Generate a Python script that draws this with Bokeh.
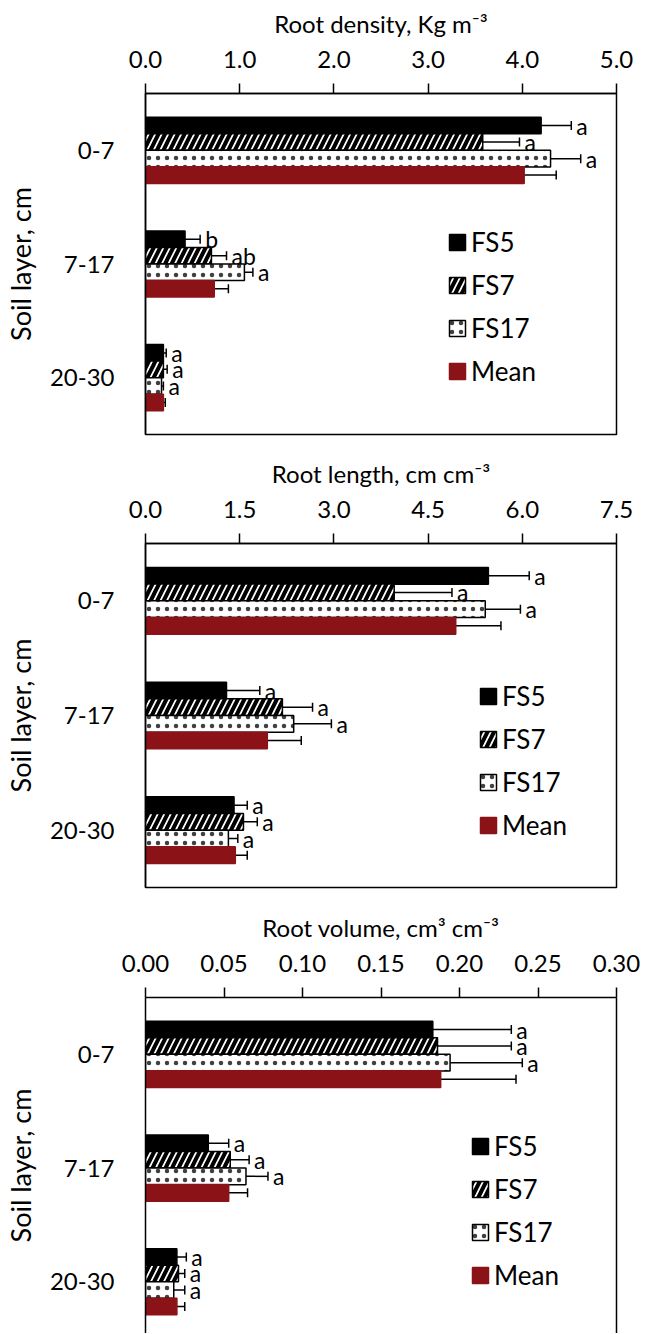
from bokeh.plotting import figure
from bokeh.models import (Range1d, FixedTicker, NumeralTickFormatter, LinearAxis,
                          Whisker, TeeHead, ColumnDataSource, Legend, LegendItem)
from bokeh.layouts import column
from bokeh.core.properties import value
from bokeh.embed import file_html
from bokeh.resources import INLINE

layers = ["0-7", "7-17", "20-30"]
series = ["FS5", "FS7", "FS17", "Mean"]

# Root density, Kg m-3
dens_FS5 = [4.20, 0.42, 0.19]
dens_FS7 = [3.58, 0.70, 0.19]
dens_FS17 = [4.30, 1.05, 0.17]
dens_Mean = [4.02, 0.73, 0.19]
dens_err_FS5 = [0.32, 0.16, 0.03]
dens_err_FS7 = [0.39, 0.16, 0.04]
dens_err_FS17 = [0.32, 0.09, 0.02]
dens_err_Mean = [0.34, 0.15, 0.02]
dens_let_FS5 = ["a", "b", "a"]
dens_let_FS7 = ["a", "ab", "a"]
dens_let_FS17 = ["a", "a", "a"]

# Root length, cm cm-3
len_FS5 = [5.46, 1.29, 1.41]
len_FS7 = [3.96, 2.18, 1.56]
len_FS17 = [5.41, 2.36, 1.32]
len_Mean = [4.94, 1.94, 1.43]
len_err_FS5 = [0.65, 0.53, 0.21]
len_err_FS7 = [0.92, 0.48, 0.22]
len_err_FS17 = [0.56, 0.60, 0.15]
len_err_Mean = [0.72, 0.54, 0.19]
len_let_FS5 = ["a", "a", "a"]
len_let_FS7 = ["a", "a", "a"]
len_let_FS17 = ["a", "a", "a"]

# Root volume, cm3 cm-3
vol_FS5 = [0.183, 0.040, 0.020]
vol_FS7 = [0.186, 0.054, 0.021]
vol_FS17 = [0.194, 0.064, 0.018]
vol_Mean = [0.188, 0.053, 0.020]
vol_err_FS5 = [0.050, 0.013, 0.006]
vol_err_FS7 = [0.047, 0.012, 0.004]
vol_err_FS17 = [0.046, 0.014, 0.007]
vol_err_Mean = [0.048, 0.012, 0.005]
vol_let_FS5 = ["a", "a", "a"]
vol_let_FS7 = ["a", "a", "a"]
vol_let_FS17 = ["a", "a", "a"]

x_ticks_dens = [0, 1, 2, 3, 4, 5]
x_ticks_len = [0, 1.5, 3.0, 4.5, 6.0, 7.5]
x_ticks_vol = [0, 0.05, 0.10, 0.15, 0.20, 0.25, 0.30]

FONT = "Lato"
MEAN_COLOR = "#8B1317"
OFFSETS = [0.218, 0.073, -0.073, -0.218]
BAR_H = 0.146


def panel(title, vals, errs, lets, xticks, fmt, height, top, frame_h, bl, br,
          legend_xy, closed=True, ybottom=0.0):
    p = figure(width=656, height=height, x_range=Range1d(0, xticks[-1]),
               y_range=Range1d(ybottom, 3), x_axis_location="above",
               output_backend="svg", toolbar_location=None,
               min_border_left=bl, min_border_right=br, min_border_top=top,
               min_border_bottom=height - top - frame_h)
    p.grid.visible = False
    p.background_fill_color = "white"
    p.border_fill_color = "white"
    if closed:
        p.outline_line_color = "black"
        p.outline_line_width = 1.5
    else:
        p.outline_line_color = None
        r_ax = LinearAxis(ticker=FixedTicker(ticks=[]), major_tick_out=0,
                          major_tick_in=0, minor_tick_out=0, minor_tick_in=0,
                          major_label_text_font_size="0px", axis_line_width=1.5,
                          axis_line_color="black")
        p.add_layout(r_ax, "right")

    xa = p.xaxis[0]
    xa.ticker = FixedTicker(ticks=xticks)
    xa.formatter = NumeralTickFormatter(format=fmt)
    xa.axis_label = title
    xa.axis_label_text_font = FONT
    xa.axis_label_text_font_size = "24px"
    xa.axis_label_text_font_style = "normal"
    xa.axis_label_text_color = "black"
    xa.axis_label_standoff = 10
    xa.major_label_text_font = FONT
    xa.major_label_text_font_size = "24px"
    xa.major_label_text_color = "black"
    xa.major_label_standoff = 16
    xa.major_tick_out = 10
    xa.major_tick_in = 0
    xa.minor_tick_out = 0
    xa.minor_tick_in = 0
    xa.axis_line_width = 1.5
    xa.major_tick_line_width = 1.5
    xa.axis_line_color = "black"
    xa.major_tick_line_color = "black"

    ya = p.yaxis[0]
    ypos = [len(layers) - 1 - i + 0.5 for i in range(len(layers))]
    ya.ticker = FixedTicker(ticks=ypos)
    ya.major_label_overrides = {yp: lab for yp, lab in zip(ypos, layers)}
    ya.axis_label = "Soil layer, cm"
    ya.axis_label_text_font = FONT
    ya.axis_label_text_font_size = "27px"
    ya.axis_label_text_font_style = "normal"
    ya.axis_label_text_color = "black"
    ya.axis_label_standoff = 10
    ya.major_label_text_font = FONT
    ya.major_label_text_font_size = "24px"
    ya.major_label_text_color = "black"
    ya.major_label_standoff = 31
    ya.major_tick_out = 0
    ya.major_tick_in = 0
    ya.minor_tick_out = 0
    ya.minor_tick_in = 0
    ya.axis_line_width = 1.5
    ya.axis_line_color = "black"

    styles = [
        dict(fill_color="black", line_color="black"),
        dict(fill_color="white", line_color="black", hatch_pattern="/",
             hatch_color="black", hatch_weight=4, hatch_scale=13),
        dict(fill_color="white", line_color="black", hatch_pattern=".",
             hatch_color="black", hatch_weight=0.3, hatch_scale=9,
             hatch_alpha=0.75),
        dict(fill_color=MEAN_COLOR, line_color=MEAN_COLOR),
    ]
    items = []
    for k, name in enumerate(series):
        ys = [y + OFFSETS[k] for y in ypos]
        v = vals[k]
        e = errs[k]
        src = ColumnDataSource(dict(y=ys, right=v, upper=[a + b for a, b in zip(v, e)]))
        r = p.hbar(y="y", left=0, right="right", height=BAR_H, source=src,
                   line_width=1.5, **styles[k])
        items.append(LegendItem(label=name, renderers=[r]))
        w = Whisker(base="y", lower="right", upper="upper", dimension="width",
                    source=src, line_color="black", line_width=1.5,
                    lower_head=None,
                    upper_head=TeeHead(size=9, line_color="black", line_width=1.5))
        p.add_layout(w)
        if k < 3:
            tsrc = ColumnDataSource(dict(x=src.data["upper"], y=ys, t=lets[k]))
            p.text(x="x", y="y", text="t", source=tsrc, x_offset=5,
                   text_baseline="middle", text_align="left",
                   text_font=value(FONT), text_font_size="23px", text_color="black")

    leg = Legend(items=items, location=legend_xy, orientation="vertical",
                 border_line_color=None, background_fill_alpha=0,
                 padding=0, margin=0, glyph_width=20, glyph_height=20,
                 label_text_font=FONT, label_text_font_size="26px",
                 label_text_color="black", label_standoff=4, spacing=11,
                 label_height=20)
    p.add_layout(leg, "center")
    return p


p1 = panel("Root density, Kg m\u207b\u00b3",
           [dens_FS5, dens_FS7, dens_FS17, dens_Mean],
           [dens_err_FS5, dens_err_FS7, dens_err_FS17, dens_err_Mean],
           [dens_let_FS5, dens_let_FS7, dens_let_FS17],
           x_ticks_dens, "0.0", 451, 93, 341, 137, 37, (302, 47))
p2 = panel("Root length, cm cm\u207b\u00b3",
           [len_FS5, len_FS7, len_FS17, len_Mean],
           [len_err_FS5, len_err_FS7, len_err_FS17, len_err_Mean],
           [len_let_FS5, len_let_FS7, len_let_FS17],
           x_ticks_len, "0.0", 454, 92, 344, 134, 39, (333, 46))
p3 = panel("Root volume, cm\u00b3 cm\u207b\u00b3",
           [vol_FS5, vol_FS7, vol_FS17, vol_Mean],
           [vol_err_FS5, vol_err_FS7, vol_err_FS17, vol_err_Mean],
           [vol_let_FS5, vol_let_FS7, vol_let_FS17],
           x_ticks_vol, "0.00", 428, 92, 336, 133, 40, (325, 42),
           closed=False, ybottom=3 - 336 / 113.7)

layout = column(p1, p2, p3, spacing=0)
open("out.html", "w").write(file_html(layout, INLINE))
